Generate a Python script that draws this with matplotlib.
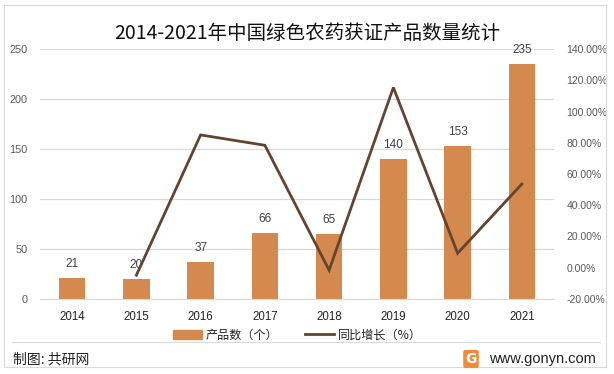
import matplotlib.pyplot as plt
from matplotlib.lines import Line2D
from matplotlib.patches import Rectangle

plt.rcParams['font.family'] = ['Noto Sans CJK SC', 'DejaVu Sans']

years = ['2014', '2015', '2016', '2017', '2018', '2019', '2020', '2021']
counts = [21, 20, 37, 66, 65, 140, 153, 235]
# growth (%) from 2015 on
growth_years = years[1:]
growth = [-4.76, 85.0, 78.38, -1.52, 115.38, 9.29, 53.59]

bar_color = '#D48A4E'
line_color = '#634430'
txt = '#404040'
num_font = ['Liberation Sans', 'DejaVu Sans']

fig = plt.figure(figsize=(6.14, 3.74), dpi=100)
ax = fig.add_axes([40/614, 75/374, 514/614, 250/374])
ax2 = ax.twinx()

x = list(range(len(years)))
ax.bar(x, counts, width=0.41, color=bar_color, zorder=2)
for xi, v in zip(x, counts):
    ax.text(xi, v + 8, str(v), ha='center', va='bottom', fontsize=8.5, color=txt,
            family=num_font, zorder=1)

ax.set_xlim(-0.5, len(years) - 0.5)
ax.set_ylim(0, 250)
ax.set_yticks(range(0, 251, 50))
ax.set_xticks(x)
ax.set_xticklabels(years, fontsize=8.3, color='#222222', family=num_font)
for lb in ax.get_yticklabels():
    lb.set_family(num_font)
ax.tick_params(axis='y', labelsize=7.8, labelcolor='#595959', length=0, pad=9)
ax.tick_params(axis='x', length=0, pad=9)
ax.grid(axis='y', color='#D9D9D9', linewidth=0.9, zorder=0)
ax.set_axisbelow(True)
for s in ax.spines.values():
    s.set_visible(False)
ax.spines['bottom'].set_visible(True)
ax.spines['bottom'].set_color('#D9D9D9')

gx = [years.index(y) for y in growth_years]
ax2.plot(gx, growth, color=line_color, linewidth=2.0, zorder=3, solid_joinstyle='miter')
ax2.set_ylim(-20, 140)
ax2.set_yticks(range(-20, 141, 20))
ax2.set_yticklabels(['%.2f%%' % v for v in range(-20, 141, 20)], family=num_font)
ax2.tick_params(axis='y', labelsize=7.5, labelcolor='#595959', length=0, pad=9)
for s in ax2.spines.values():
    s.set_visible(False)

fig.text(0.5, 1 - 33/374, '2014-2021年中国绿色农药获证产品数量统计', ha='center', va='center',
         fontsize=14, color='#111111')

handles = [Rectangle((0, 0), 1, 1, color=bar_color),
           Line2D([0], [0], color=line_color, linewidth=2.0)]
fig.legend(handles, ['产品数（个）', '同比增长（%）'], loc='center', bbox_to_anchor=(0.484, 1 - 335/374),
           ncol=2, frameon=False, fontsize=8.7, handlelength=2.4, handleheight=0.8,
           columnspacing=2.2, handletextpad=0.3, labelcolor='#222222')

# footer separator and outer border
fig.add_artist(Line2D([12/614, 600/614], [1 - 342/374, 1 - 342/374], color='#D9D9D9', linewidth=0.8))
fig.add_artist(Rectangle((4/614, 1 - 367/374), 602/614, 362/374, fill=False,
                         edgecolor='#D9D9D9', linewidth=0.8))
fig.text(13/614, 1 - 359/374, '制图: 共研网', ha='left', va='center', fontsize=10, color='#222222')
fig.text(596/614, 1 - 359/374, 'www.gonyn.com', ha='right', va='center', fontsize=10.5,
         color='#222222', family=num_font)
fig.text(471/614, 1 - 359/374, 'G', ha='center', va='center', fontsize=10, color='white',
         fontweight='bold', family='DejaVu Sans',
         bbox=dict(boxstyle='round,pad=0.15', fc='#F08A3C', ec='none'))

fig.savefig('out.png', dpi=100)
